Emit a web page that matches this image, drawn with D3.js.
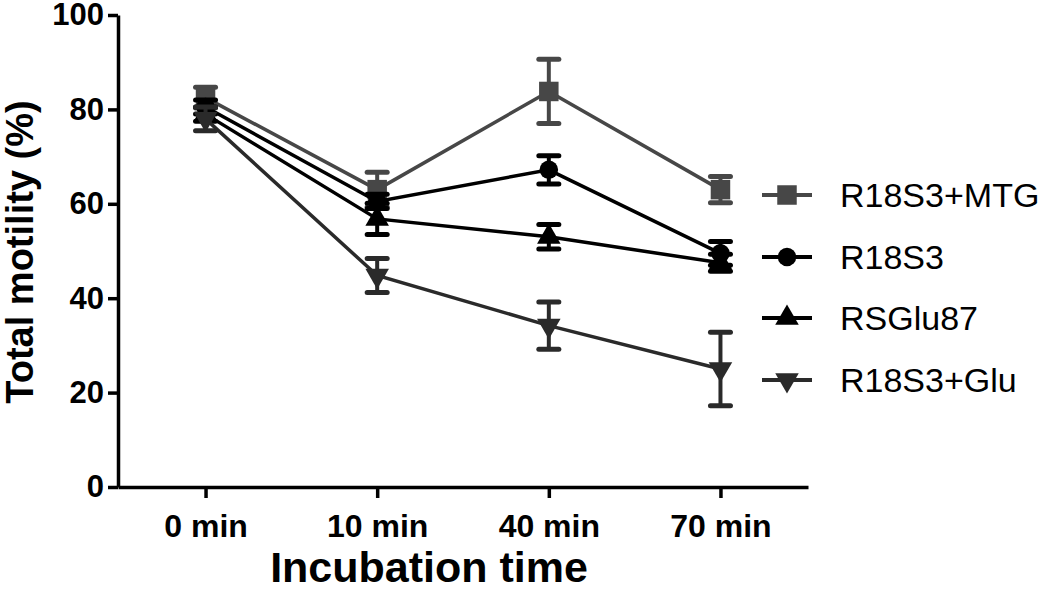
<!DOCTYPE html>
<html><head><meta charset="utf-8">
<script src="https://cdn.jsdelivr.net/npm/d3@7"></script>
<style>body{margin:0;background:#fff}svg{display:block}</style>
</head><body>
<script>
const categories = ["0 min", "10 min", "40 min", "70 min"];
const seriesNames = ["R18S3+MTG", "R18S3", "RSGlu87", "R18S3+Glu"];
const mtgMean = [82.5, 63, 83.8, 63];
const mtgErr = [2.2, 3.7, 6.8, 2.8];
const r18Mean = [80.5, 60.5, 67.2, 49.5];
const r18Err = [1.5, 1.5, 3.0, 2.5];
const rsgMean = [79, 56.8, 53, 47.5];
const rsgErr = [1.5, 3.3, 2.6, 1.8];
const gluMean = [78, 44.8, 34.2, 25];
const gluErr = [2.5, 3.6, 5.0, 7.8];
const yTicks = [0, 20, 40, 60, 80, 100];

const W = 1050, H = 592;
const FONT = "Liberation Sans, Arial, sans-serif";
const svg = d3.select("body").append("svg").attr("width", W).attr("height", H);
const x = d3.scalePoint().domain(categories).range([118, 808]).padding(0.51);
const y = d3.scaleLinear().domain([0, 100]).range([487, 15]);

const series = [
  {name: seriesNames[0], mean: mtgMean, err: mtgErr, color: "#474747", sym: d3.symbolSquare},
  {name: seriesNames[1], mean: r18Mean, err: r18Err, color: "#000000", sym: d3.symbolCircle},
  {name: seriesNames[2], mean: rsgMean, err: rsgErr, color: "#000000", sym: d3.symbolTriangle},
  {name: seriesNames[3], mean: gluMean, err: gluErr, color: "#2a2a2a", sym: "down"}
];

function symPath(s, size) {
  if (s === "down") return d3.symbol().type(d3.symbolTriangle).size(size)();
  return d3.symbol().type(s).size(size)();
}
const symSize = {0: 380, 1: 270, 2: 240, 3: 240};

// axes
const yAxis = svg.append("g").attr("transform", "translate(118,0)")
  .call(d3.axisLeft(y).tickValues(yTicks).tickSize(10).tickSizeOuter(0));
yAxis.select(".domain").attr("stroke", "#000").attr("stroke-width", 3.5);
yAxis.selectAll(".tick line").attr("stroke", "#000").attr("stroke-width", 3.5);
yAxis.selectAll(".tick text").attr("font-family", FONT)
  .attr("font-weight", "bold").attr("font-size", 31).attr("fill", "#000").attr("x", -14);

const xAxis = svg.append("g").attr("transform", "translate(0,487)")
  .call(d3.axisBottom(x).tickSize(11).tickSizeOuter(0));
xAxis.select(".domain").attr("stroke", "#000").attr("stroke-width", 3.5);
xAxis.selectAll(".tick line").attr("stroke", "#000").attr("stroke-width", 3.5);
xAxis.selectAll(".tick text").attr("font-family", FONT)
  .attr("font-weight", "bold").attr("font-size", 32).attr("fill", "#000").attr("y", 27);

svg.append("text").attr("x", 429).attr("y", 582).attr("text-anchor", "middle")
  .attr("font-family", FONT)
  .attr("font-weight", "bold").attr("font-size", 43).text("Incubation time");
svg.append("text").attr("transform", "translate(33,252) rotate(-90)").attr("text-anchor", "middle")
  .attr("font-family", FONT)
  .attr("font-weight", "bold").attr("font-size", 38).text("Total motility (%)");

const line = d3.line().x((d, i) => x(categories[i])).y(d => y(d));
series.forEach((s, si) => {
  const g = svg.append("g");
  g.append("path").datum(s.mean).attr("d", line).attr("fill", "none")
    .attr("stroke", s.color).attr("stroke-width", 3.5);
  s.mean.forEach((m, i) => {
    const cx = x(categories[i]);
    g.append("line").attr("x1", cx).attr("x2", cx).attr("y1", y(m - s.err[i])).attr("y2", y(m + s.err[i]))
      .attr("stroke", s.color).attr("stroke-width", 4);
    [m - s.err[i], m + s.err[i]].forEach(v => {
      g.append("line").attr("x1", cx - 10).attr("x2", cx + 10).attr("y1", y(v)).attr("y2", y(v))
        .attr("stroke", s.color).attr("stroke-width", 5).attr("stroke-linecap", "round");
    });
    g.append("path").attr("d", symPath(s.sym, symSize[si]))
      .attr("transform", `translate(${cx},${y(m)})` + (s.sym === "down" ? " rotate(180)" : ""))
      .attr("fill", s.color);
  });
});

// legend
const legY = [195, 257, 318, 380];
series.forEach((s, si) => {
  const g = svg.append("g").attr("transform", `translate(0,${legY[si]})`);
  g.append("line").attr("x1", 762).attr("x2", 812).attr("stroke", s.color).attr("stroke-width", 4);
  g.append("path").attr("d", symPath(s.sym, symSize[si]))
    .attr("transform", "translate(787,0)" + (s.sym === "down" ? " rotate(180)" : "")).attr("fill", s.color);
  g.append("text").attr("x", 840).attr("y", 12).attr("font-family", FONT)
    .attr("font-size", 34).attr("fill", "#000").text(s.name);
});
</script>
</body></html>
